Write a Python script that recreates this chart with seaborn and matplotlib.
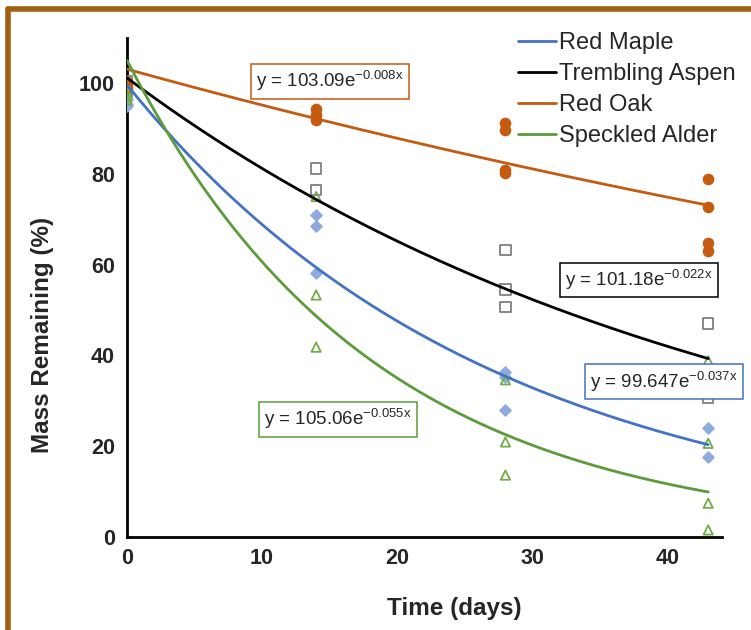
import numpy as np
import pandas as pd
import matplotlib
matplotlib.use('Agg')
import matplotlib.pyplot as plt
import seaborn as sns
from matplotlib.lines import Line2D
from matplotlib.ticker import MultipleLocator

# observed mass remaining (%) by day, per species
maple_days = [0, 0, 0, 14, 14, 14, 28, 28, 28, 43, 43]
maple_mass = [96.5, 95.5, 95.0, 71.0, 68.5, 58.2, 36.3, 35.2, 27.9, 23.9, 17.5]

aspen_days = [0, 0, 0, 14, 14, 28, 28, 28, 43, 43]
aspen_mass = [100.5, 99.0, 98.0, 81.2, 76.5, 63.2, 54.5, 50.6, 47.0, 30.7]

oak_days = [0, 0, 0, 14, 14, 14, 28, 28, 28, 28, 43, 43, 43, 43]
oak_mass = [100.3, 99.6, 99.0, 94.2, 93.0, 91.8, 91.2, 89.6, 80.8, 80.2, 78.9, 72.8, 64.7, 62.9]

alder_days = [0, 0, 0, 14, 14, 14, 28, 28, 28, 43, 43, 43, 43]
alder_mass = [98.0, 97.0, 96.3, 75.0, 53.3, 41.8, 34.6, 20.9, 13.6, 38.8, 20.6, 7.4, 1.5]

species = ['Red Maple', 'Trembling Aspen', 'Red Oak', 'Speckled Alder']
fit_a = [99.647, 101.18, 103.09, 105.06]
fit_b = [-0.037, -0.022, -0.008, -0.055]
fit_labels = ['y = 99.647e$^{-0.037x}$', 'y = 101.18e$^{-0.022x}$',
              'y = 103.09e$^{-0.008x}$', 'y = 105.06e$^{-0.055x}$']
label_pos = [(39.7, 34.2), (37.9, 56.6), (15.0, 100.4), (15.6, 25.9)]

line_colors = ['#4472C4', '#000000', '#C55A11', '#5B9B3C']
marker_face = ['#8FAADC', 'none', '#C55A11', 'none']
marker_edge = ['#8FAADC', '#808080', '#C55A11', '#70AD47']
markers = ['D', 's', 'o', '^']
marker_size = [30, 55, 50, 45]

sns.set_style('white')
plt.rcParams['font.family'] = ['Liberation Sans', 'DejaVu Sans']
plt.rcParams['mathtext.default'] = 'regular'

fig = plt.figure(figsize=(7.51, 6.30), dpi=100)
ax = fig.add_axes([0.169, 0.148, 0.792, 0.792])

obs = [(maple_days, maple_mass), (aspen_days, aspen_mass),
       (oak_days, oak_mass), (alder_days, alder_mass)]

for i, name in enumerate(species):
    df = pd.DataFrame({'day': obs[i][0], 'mass': obs[i][1]})
    sns.scatterplot(data=df, x='day', y='mass', ax=ax, marker=markers[i],
                    s=marker_size[i], facecolor=marker_face[i],
                    edgecolor=marker_edge[i], linewidth=1.3, zorder=3)

x = np.linspace(0, 43, 200)
for i, name in enumerate(species):
    fit = pd.DataFrame({'day': x, 'mass': fit_a[i] * np.exp(fit_b[i] * x)})
    sns.lineplot(data=fit, x='day', y='mass', ax=ax, color=line_colors[i],
                 linewidth=2, label=name, zorder=4)

for i in range(4):
    ax.text(label_pos[i][0], label_pos[i][1], fit_labels[i], fontsize=13.5,
            ha='center', va='center', zorder=6,
            bbox=dict(boxstyle='square,pad=0.28', fc='white', ec=line_colors[i], lw=1.1))

ax.set_xlim(0, 44)
ax.set_ylim(0, 110)
ax.set_xticks([0, 10, 20, 30, 40])
ax.set_yticks([0, 20, 40, 60, 80, 100])
ax.xaxis.set_minor_locator(MultipleLocator(2))
ax.yaxis.set_minor_locator(MultipleLocator(4))
ax.tick_params(axis='both', which='major', direction='inout', length=10, width=1.5,
               labelsize=15.5)
ax.tick_params(axis='x', which='minor', direction='inout', length=7, width=1.2)
ax.tick_params(axis='y', which='minor', direction='in', length=5, width=1.2)
ax.tick_params(axis='x', which='major', pad=3)
for lab in ax.get_xticklabels() + ax.get_yticklabels():
    lab.set_fontweight('bold')

for s in ['top', 'right']:
    ax.spines[s].set_visible(False)
for s in ['left', 'bottom']:
    ax.spines[s].set_color('black')
    ax.spines[s].set_linewidth(2)

ax.set_xlabel('Time (days)', fontsize=17.5, fontweight='bold')
ax.set_ylabel('Mass Remaining (%)', fontsize=17.5, fontweight='bold')
ax.xaxis.set_label_coords(0.551, -0.12)
ax.yaxis.set_label_coords(-0.122, 0.405)

ax.legend(loc='upper right', bbox_to_anchor=(1.04, 1.03), frameon=False,
          fontsize=17, handlelength=1.6, handletextpad=0.15, labelspacing=0.38,
          borderaxespad=0)

# brown frame on top and left edges
frame = '#A0600F'
fig.add_artist(Line2D([0.01, 1.0], [0.985, 0.985], color=frame, linewidth=4,
                      transform=fig.transFigure))
fig.add_artist(Line2D([0.01, 0.01], [0.0, 0.985], color=frame, linewidth=4,
                      transform=fig.transFigure))

fig.savefig('out.png', dpi=100)
